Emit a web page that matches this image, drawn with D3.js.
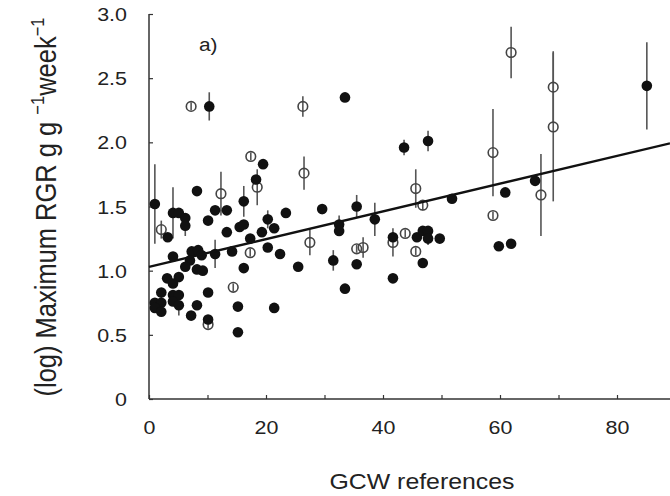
<!DOCTYPE html>
<meta charset="utf-8">
<title>RGR vs GCW references</title>
<script src="https://d3js.org/d3.v7.min.js"></script>
<style>
  body { margin: 0; background: #fff; }
  text { font-family: "Liberation Sans", Arial, sans-serif; fill: #222; }
</style>
<body>
<div id="chart"></div>
<script>
// filled points: [GCW references, log max RGR, error half-length]
var filledPts = [
  [1.0,1.52,0.31],[3.2,1.26,0],[4.1,1.45,0.20],[5.1,1.45,0],[6.2,1.41,0],[6.2,1.35,0.08],
  [8.2,1.62,0],[11.3,1.47,0],[13.3,1.47,0],[10.1,1.39,0],[13.3,1.30,0],[15.5,1.34,0],
  [16.2,1.36,0],[16.2,1.54,0.12],[17.3,1.25,0],[18.3,1.71,0],[19.5,1.83,0],[10.3,2.28,0.11],
  [4.1,1.11,0],[7.3,1.15,0],[8.4,1.16,0],[7.0,1.08,0],[9.0,1.12,0],[11.3,1.13,0.11],
  [14.2,1.15,0],[6.2,1.03,0],[5.1,0.95,0],[8.2,1.01,0],[9.2,1.00,0],[3.1,0.94,0],
  [4.1,0.90,0],[16.2,1.02,0],[2.1,0.83,0],[4.1,0.81,0],[5.1,0.81,0],[10.1,0.83,0],
  [1.0,0.75,0],[2.1,0.75,0.05],[1.0,0.71,0],[2.1,0.68,0],[4.1,0.76,0],[5.1,0.73,0.08],
  [8.2,0.73,0],[7.2,0.65,0],[15.2,0.72,0],[10.1,0.62,0],[15.2,0.52,0],[21.4,0.71,0],
  [20.3,1.40,0.07],[21.4,1.33,0],[19.3,1.30,0],[23.4,1.45,0],[29.6,1.48,0.04],[20.3,1.18,0],
  [22.4,1.13,0],[25.5,1.03,0],[31.5,1.08,0.08],[33.5,0.86,0],[32.5,1.36,0.07],[32.5,1.31,0],
  [35.5,1.50,0.09],[35.5,1.05,0],[33.5,2.35,0],[43.6,1.96,0.06],[47.7,2.01,0.08],[51.8,1.56,0],
  [38.6,1.40,0.13],[41.7,1.26,0],[45.8,1.26,0],[46.8,1.31,0],[47.7,1.31,0],[47.7,1.25,0.05],
  [49.7,1.25,0],[46.8,1.06,0],[41.7,0.94,0],[59.8,1.19,0],[61.9,1.21,0],[60.9,1.61,0],
  [66.0,1.70,0],[85.1,2.44,0.34]
];

// open points
var openPts = [
  [7.2,2.28,0.03],[26.3,2.28,0.08],[17.4,1.89,0.03],[12.3,1.60,0.17],[18.5,1.65,0.14],
  [26.5,1.76,0.13],[2.1,1.32,0.07],[17.3,1.14,0.03],[14.4,0.87,0.03],[10.1,0.58,0.03],
  [27.5,1.22,0.10],[35.5,1.17,0.03],[36.6,1.18,0.08],[41.7,1.22,0.11],[43.8,1.29,0.03],
  [45.6,1.15,0.03],[45.6,1.64,0.15],[46.8,1.51,0.04],[58.8,1.92,0.34],[58.8,1.43,0.03],
  [61.9,2.70,0.20],[69.1,2.43,0.28],[69.1,2.12,0.58],[67.0,1.59,0.32]
];

// regression: intercept, slope
var lineCoef = [1.03, 0.0108];

var xTicks = [0,10,20,30,40,50,60,70,80];
var xTickLabels = ["0","","20","","40","","60","","80"];
var yTicks = [0,0.5,1,1.5,2,2.5,3];
var yTickLabels = ["0","0.5","1.0","1.5","2.0","2.5","3.0"];

var W = 670, H = 496;
var svg = d3.select("#chart").append("svg")
  .attr("width", W).attr("height", H);

var x = d3.scaleLinear().domain([0, 89.06]).range([149, 670]);
var y = d3.scaleLinear().domain([0, 3]).range([399, 14]);

var axisCol = "#333";

// x axis
var xAxis = svg.append("g")
  .attr("transform", "translate(0,399)")
  .call(d3.axisBottom(x).tickValues(xTicks).tickSize(-4).tickFormat(function(d, i) { return xTickLabels[i]; }));
// y axis
var yAxis = svg.append("g")
  .attr("transform", "translate(149,0)")
  .call(d3.axisLeft(y).tickValues(yTicks).tickSize(-4).tickFormat(function(d, i) { return yTickLabels[i]; }));

[xAxis, yAxis].forEach(function(a) {
  a.select(".domain").attr("stroke", axisCol).attr("stroke-width", 1.5);
  a.selectAll(".tick line").attr("stroke", axisCol).attr("stroke-width", 1.2);
  a.selectAll(".tick text").attr("font-family", "Liberation Sans, Arial, sans-serif")
    .attr("font-size", 18.5).attr("fill", "#222");
});
// domain paths without end caps
xAxis.select(".domain").attr("d", "M149,0H670");
yAxis.select(".domain").attr("d", "M0,399V14");

xAxis.selectAll(".tick text").attr("y", 0).attr("dy", 0)
  .attr("transform", "translate(0,35) scale(1.16,1)");
yAxis.selectAll(".tick text").attr("x", 0).attr("dy", 0)
  .attr("transform", "translate(-22,6.5) scale(1.16,1)");

// error bars
var bars = filledPts.concat(openPts).filter(function(d) { return d[2] > 0; });
svg.append("g").selectAll("line").data(bars).enter().append("line")
  .attr("x1", function(d) { return x(d[0]); })
  .attr("x2", function(d) { return x(d[0]); })
  .attr("y1", function(d) { return y(d[1] + d[2]); })
  .attr("y2", function(d) { return y(d[1] - d[2]); })
  .attr("stroke", "#555").attr("stroke-width", 1.6);

// open circles
svg.append("g").selectAll("circle").data(openPts).enter().append("circle")
  .attr("cx", function(d) { return x(d[0]); })
  .attr("cy", function(d) { return y(d[1]); })
  .attr("r", 4.8)
  .attr("fill", "none").attr("stroke", "#444").attr("stroke-width", 1.6);

// filled circles
svg.append("g").selectAll("circle").data(filledPts).enter().append("circle")
  .attr("cx", function(d) { return x(d[0]); })
  .attr("cy", function(d) { return y(d[1]); })
  .attr("r", 5.3)
  .attr("fill", "#111");

// regression line
var xd = x.domain();
svg.append("line")
  .attr("x1", x(xd[0])).attr("y1", y(lineCoef[0] + lineCoef[1] * xd[0]))
  .attr("x2", x(xd[1])).attr("y2", y(lineCoef[0] + lineCoef[1] * xd[1]))
  .attr("stroke", "#111").attr("stroke-width", 2.4);

// panel label
svg.append("text")
  .attr("transform", "translate(199,51) scale(1.16,1)")
  .attr("font-size", 18).text("a)");

// x label
svg.append("text")
  .attr("transform", "translate(422,489) scale(1.13,1)")
  .attr("text-anchor", "middle").attr("font-size", 22)
  .text("GCW references");

// y label
var yl = svg.append("text")
  .attr("transform", "translate(56,207) rotate(-90) scale(1,1.16)")
  .attr("text-anchor", "middle").attr("font-size", 25.5);
yl.append("tspan").text("(log) Maximum RGR g g ");
yl.append("tspan").attr("font-size", 16.5).attr("dy", -10).text("\u22121");
yl.append("tspan").attr("dy", 10).text("week");
yl.append("tspan").attr("font-size", 16.5).attr("dy", -10).text("\u22121");
</script>
</body>
